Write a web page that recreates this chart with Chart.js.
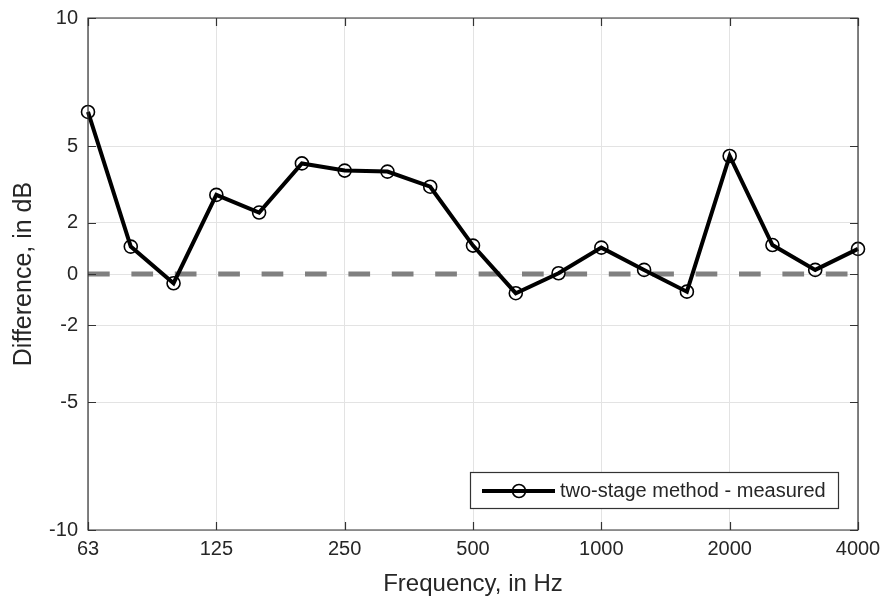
<!DOCTYPE html>
<html>
<head>
<meta charset="utf-8">
<script src="https://cdn.jsdelivr.net/npm/chart.js@4.4.1/dist/chart.umd.min.js"></script>
<style>
  html, body { margin: 0; padding: 0; background: #fff; }
  #wrap { width: 889px; height: 604px; }
</style>
</head>
<body>
<div id="wrap"><canvas id="c" width="889" height="604"></canvas></div>
<script>
// ---- data ----
const bands = ['63','80','100','125','160','200','250','315','400','500','630','800','1000','1250','1600','2000','2500','3150','4000'];
const diff = [6.33, 1.07, -0.36, 3.09, 2.40, 4.32, 4.04, 4.00, 3.41, 1.11, -0.75, 0.03, 1.03, 0.16, -0.69, 4.61, 1.13, 0.16, 0.98];
const xTickLabels = ['63','125','250','500','1000','2000','4000'];
const yTicks = [-10, -5, -2, 0, 2, 5, 10];
const zeroLine = [0, 0];
const seriesName = 'two-stage method - measured';

const AX = '#333333';
const GRID = '#e3e3e3';
const FONT = '"Liberation Sans", Arial, Helvetica, sans-serif';

const points = diff.map((v, i) => ({ x: i, y: v }));
const refPoints = [{ x: 0, y: zeroLine[0] }, { x: bands.length - 1, y: zeroLine[1] }];

const boxPlugin = {
  id: 'boxPlugin',
  afterDatasetsDraw(chart) {
    const { ctx, chartArea: a, scales } = chart;
    ctx.save();
    ctx.strokeStyle = AX;
    ctx.lineWidth = 1.2;
    ctx.beginPath();
    ctx.rect(a.left, a.top, a.right - a.left, a.bottom - a.top);
    ctx.stroke();
    const tl = 8;
    ctx.beginPath();
    scales.x.ticks.forEach(t => {
      const px = Math.round(scales.x.getPixelForValue(t.value)) + 0.5;
      ctx.moveTo(px, a.bottom); ctx.lineTo(px, a.bottom - tl);
      ctx.moveTo(px, a.top); ctx.lineTo(px, a.top + tl);
    });
    scales.y.ticks.forEach(t => {
      const py = Math.round(scales.y.getPixelForValue(t.value)) + 0.5;
      ctx.moveTo(a.left, py); ctx.lineTo(a.left + tl, py);
      ctx.moveTo(a.right, py); ctx.lineTo(a.right - tl, py);
    });
    ctx.stroke();

    // legend inside plot (south-east)
    const lx = 470, ly = 472, lw = 368, lh = 36;
    ctx.fillStyle = '#ffffff';
    ctx.fillRect(lx, ly, lw, lh);
    ctx.strokeStyle = AX;
    ctx.lineWidth = 1.2;
    ctx.strokeRect(lx + 0.5, ly + 0.5, lw, lh);
    const cy = ly + lh / 2 + 1;
    ctx.strokeStyle = '#000';
    ctx.lineWidth = 4;
    ctx.beginPath();
    ctx.moveTo(482, cy); ctx.lineTo(555, cy);
    ctx.stroke();
    ctx.lineWidth = 1.6;
    ctx.beginPath();
    ctx.arc(519, cy, 6.5, 0, Math.PI * 2);
    ctx.stroke();
    ctx.fillStyle = '#262626';
    ctx.font = '20px ' + FONT;
    ctx.textBaseline = 'middle';
    ctx.textAlign = 'left';
    ctx.fillText(seriesName, 560, cy);
    ctx.restore();
  }
};

new Chart(document.getElementById('c'), {
  type: 'line',
  data: {
    datasets: [
      {
        label: seriesName,
        data: points,
        borderColor: '#000',
        borderWidth: 4,
        pointRadius: 6.5,
        pointHoverRadius: 6.5,
        pointBorderWidth: 1.6,
        pointBorderColor: '#000',
        pointBackgroundColor: 'rgba(0,0,0,0)',
        tension: 0,
        fill: false,
        clip: false,
        order: 1
      },
      {
        label: 'zero',
        data: refPoints,
        borderColor: '#808080',
        borderWidth: 5,
        borderDash: [21.7, 21.7],
        borderCapStyle: 'butt',
        pointRadius: 0,
        fill: false,
        order: 2
      }
    ]
  },
  options: {
    responsive: false,
    animation: false,
    events: [],
    layout: { padding: { left: 0, right: 31, top: 18, bottom: 0 } },
    plugins: { legend: { display: false }, tooltip: { enabled: false } },
    scales: {
      x: {
        type: 'linear',
        min: 0,
        max: bands.length - 1,
        afterBuildTicks(scale) {
          scale.ticks = xTickLabels.map(l => ({ value: bands.indexOf(l) }));
        },
        afterFit(scale) {
          scale.height = 74;
          scale.paddingLeft = 0; scale.paddingRight = 0;
        },
        ticks: {
          autoSkip: false,
          maxRotation: 0,
          padding: 7,
          color: '#262626',
          font: { family: FONT, size: 20 },
          callback: (v) => bands[v]
        },
        grid: { color: GRID, lineWidth: 1, drawTicks: false },
        border: { display: false },
        title: {
          display: true,
          text: 'Frequency, in Hz',
          color: '#262626',
          font: { family: FONT, size: 24 },
          padding: { top: 4, bottom: 5 }
        }
      },
      y: {
        type: 'linear',
        min: -10,
        max: 10,
        afterBuildTicks(scale) {
          scale.ticks = yTicks.map(v => ({ value: v }));
        },
        afterFit(scale) {
          scale.width = 88;
          scale.paddingTop = 0; scale.paddingBottom = 0;
        },
        ticks: {
          autoSkip: false,
          padding: 10,
          color: '#262626',
          font: { family: FONT, size: 20 },
          callback: (v) => String(v)
        },
        grid: { color: GRID, lineWidth: 1, drawTicks: false },
        border: { display: false },
        title: {
          display: true,
          text: 'Difference, in dB',
          color: '#262626',
          font: { family: FONT, size: 25 },
          padding: { top: 9, bottom: 4 }
        }
      }
    }
  },
  plugins: [boxPlugin]
});
</script>
</body>
</html>
